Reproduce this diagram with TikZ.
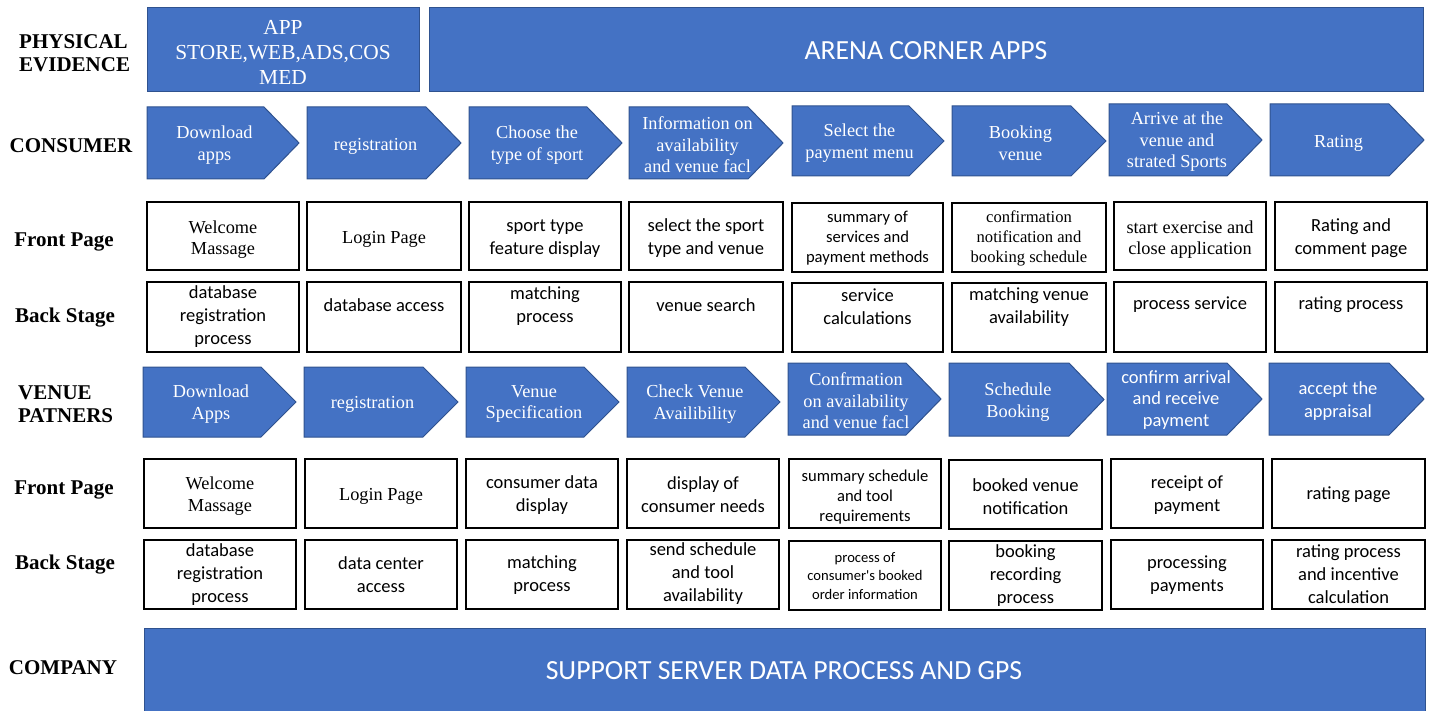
\documentclass[tikz,border=0pt]{standalone}
\usepackage{fontspec}
\setmainfont{Liberation Serif}
\newfontfamily\carl{Carlito}
\definecolor{bfill}{HTML}{4472C4}
\definecolor{bline}{HTML}{2F528F}
\tikzset{
  lane/.style={font=\fontsize{21}{23}\selectfont\bfseries, inner sep=0pt, align=left},
  blk/.style={fill=bfill, draw=bline, line width=1pt},
  wbox/.style={draw=black, line width=1.3pt, fill=white, inner sep=0pt},
  tm/.style={font=\fontsize{18.3}{21.6}\selectfont, align=center, inner sep=0pt},
  tms/.style={font=\fontsize{16.6}{19.8}\selectfont, align=center, inner sep=0pt},
  cb/.style={font={\carl\fontsize{18.5}{23}\selectfont}, align=center, inner sep=0pt},
  cba/.style={font={\carl\fontsize{18.5}{21.6}\selectfont}, align=center, inner sep=0pt},
  cbs/.style={font={\carl\fontsize{16.6}{20}\selectfont}, align=center, inner sep=0pt},
  cbx/.style={font={\carl\fontsize{14.6}{18.5}\selectfont}, align=center, inner sep=0pt},
  big/.style={font={\carl\fontsize{27.7}{30}\selectfont}, align=center, inner sep=0pt, text=white},
}
% chevron: name x1 y1 x2 y2 texty style text
\newcommand\chev[8]{%
  \path[blk] (#2,#3) -- ({#4-35},#3) -- (#4,{(#3+#5)/2}) -- ({#4-35},#5) -- (#2,#5) -- cycle;
  \node[#7, text=white] (#1) at ({(#2+#4-17)/2},{#6+2}) {#8};}
% box: name x1 y1 x2 y2 texty style text
\newcommand\bx[8]{%
  \node[wbox, minimum width={#4-#2}, minimum height={#5-#3}] (#1) at ({(#2+#4)/2},{(#3+#5)/2}) {};
  \node[#7] (#1t) at ({(#2+#4)/2},#6) {#8};}
\begin{document}
\begin{tikzpicture}[x=1pt,y=-1pt]
\useasboundingbox (0,0) rectangle (1431,711);
\begin{scope}
\clip (0,0) rectangle (1431,711);

% lane labels
\node[lane, anchor=west] (lpe) at (19,53) {PHYSICAL\\EVIDENCE};
\node[lane] (lcon) at (71,146) {CONSUMER};
\node[lane] (lfp1) at (64,241.5) {Front Page};
\node[lane] (lbs1) at (65,317.5) {Back Stage};
\node[lane, anchor=west] (lvp) at (18,404.5) {VENUE\\PATNERS};
\node[lane] (lfp2) at (64,489.5) {Front Page};
\node[lane] (lbs2) at (65,564.5) {Back Stage};
\node[lane] (lco) at (63,668) {COMPANY};

% physical evidence
\node[blk, minimum width=272, minimum height=84, inner sep=0pt] (pe1) at (283,50) {};
\node[font=\fontsize{21.4}{25}\selectfont, align=center, text=white, inner sep=0pt] (pe1t) at (283,52) {APP\\STORE,WEB,ADS,COS\\MED};
\node[blk, minimum width=994, minimum height=84, inner sep=0pt] (pe2) at (926,50) {};
\node[big] (pe2t) at (926,51) {ARENA CORNER APPS};

% consumer
\chev{ca1}{147}{107}{299}{179}{143}{tm}{Download\\apps}
\chev{ca2}{307}{107}{461}{179}{144}{tm}{registration}
\chev{ca3}{469}{107}{622}{179}{143}{tm}{Choose the\\type of sport}
\chev{ca4}{629}{107}{783}{179}{143}{tm}{Information on\\availability\\and venue facl}
\chev{ca5}{792}{106}{944}{176}{141}{tm}{Select the\\payment menu}
\chev{ca6}{952}{106}{1106}{176}{141}{tm}{Booking\\venue}
\chev{ca7}{1109}{104}{1262}{176}{140}{tm}{Arrive at the\\venue and\\strated Sports}
\chev{ca8}{1270}{104}{1424}{176}{141}{tm}{Rating}

% consumer front page
\bx{cf1}{147}{202}{299}{270}{239.5}{tm}{Welcome\\Massage}
\bx{cf2}{307}{202}{461}{270}{239.5}{tm}{Login Page}
\bx{cf3}{469}{202}{621}{270}{238.5}{cb}{sport type\\feature display}
\bx{cf4}{629}{202}{783}{270}{238.5}{cb}{select the sport\\type and venue}
\bx{cf5}{792}{203}{943}{272}{238.5}{cbs}{summary of\\services and\\payment methods}
\bx{cf6}{952}{203}{1106}{272}{238.5}{tms}{confirmation\\notification and\\booking schedule}
\bx{cf7}{1114}{202}{1266}{270}{239.5}{tm}{start exercise and\\close application}
\bx{cf8}{1275}{202}{1427}{270}{238.5}{cb}{Rating and\\comment page}

% consumer back stage
\bx{cb1}{147}{282}{299}{352}{317}{cb}{database\\registration\\process}
\bx{cb2}{307}{282}{461}{352}{305}{cb}{database access}
\bx{cb3}{469}{282}{621}{352}{306}{cb}{matching\\process}
\bx{cb4}{629}{282}{783}{352}{305}{cb}{venue search}
\bx{cb5}{792}{283}{943}{352}{307}{cb}{service\\calculations}
\bx{cb6}{952}{283}{1106}{352}{307}{cb}{matching venue\\availability}
\bx{cb7}{1114}{282}{1266}{352}{305}{cb}{process service}
\bx{cb8}{1275}{282}{1427}{352}{305}{cb}{rating process}

% venue partners
\chev{va1}{143}{367}{296}{437}{402}{tm}{Download\\Apps}
\chev{va2}{304}{367}{458}{437}{402}{tm}{registration}
\chev{va3}{466}{367}{619}{437}{402}{tm}{Venue\\Specification}
\chev{va4}{627}{367}{780}{437}{402}{tm}{Check Venue\\Availibility}
\chev{va5}{788}{363}{941}{435}{399}{tm}{Confrmation\\on availability\\and venue facl}
\chev{va6}{949}{363}{1104}{436}{400}{tm}{Schedule\\Booking}
\chev{va7}{1107}{363}{1262}{435}{398}{cba}{confirm arrival\\and receive\\payment}
\chev{va8}{1269}{363}{1424}{435}{399}{cb}{accept the\\appraisal}

% venue front page
\bx{vf1}{144}{459}{296}{528}{496}{tm}{Welcome\\Massage}
\bx{vf2}{305}{459}{457}{528}{496}{tm}{Login Page}
\bx{vf3}{466}{459}{618}{528}{495}{cb}{consumer data\\display}
\bx{vf4}{627}{459}{779}{528}{495}{cb}{display of\\consumer needs}
\bx{vf5}{789}{459}{941}{528}{497}{cbs}{summary schedule\\and tool\\requirements}
\bx{vf6}{949}{460}{1102}{529}{496.5}{cb}{booked venue\\notification}
\bx{vf7}{1111}{459}{1263}{528}{495}{cb}{receipt of\\payment}
\bx{vf8}{1272}{459}{1425}{528}{495}{cb}{rating page}

% venue back stage
\bx{vb1}{144}{540}{296}{609}{575}{cb}{database\\registration\\process}
\bx{vb2}{305}{540}{457}{609}{575}{cb}{data center\\access}
\bx{vb3}{466}{540}{618}{609}{575}{cb}{matching\\process}
\bx{vb4}{627}{540}{779}{609}{574}{cb}{send schedule\\and tool\\availability}
\bx{vb5}{789}{541}{941}{610}{576}{cbx}{process of\\consumer's booked\\order information}
\bx{vb6}{949}{541}{1102}{610}{576}{cb}{booking\\recording\\process}
\bx{vb7}{1111}{540}{1263}{609}{575}{cb}{processing\\payments}
\bx{vb8}{1272}{540}{1425}{609}{574}{cb}{rating process\\and incentive\\calculation}

% company
\node[blk, minimum width=1281, minimum height=90, inner sep=0pt] (co) at (784.5,673) {};
\node[big] (cot) at (784,671) {SUPPORT SERVER DATA PROCESS AND GPS};
\end{scope}
\end{tikzpicture}
\end{document}
